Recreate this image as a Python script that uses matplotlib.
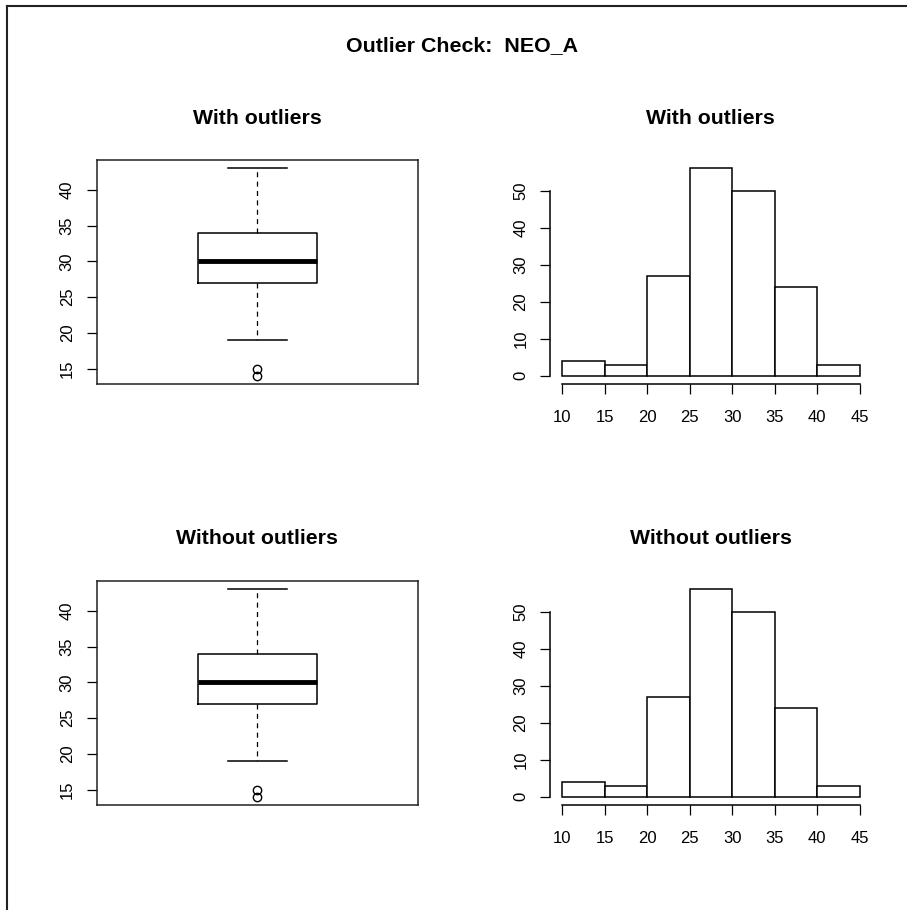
import matplotlib
matplotlib.use("Agg")
import matplotlib.pyplot as plt
from matplotlib.lines import Line2D

plt.rcParams['font.family'] = ['Liberation Sans', 'DejaVu Sans']

# values
main_title = "Outlier Check:  NEO_A"
panel_titles = ["With outliers", "Without outliers"]

box_q1 = 27
box_med = 30
box_q3 = 34
whisker_lo = 19
whisker_hi = 43
outliers = [14, 15]
box_yticks = [15, 20, 25, 30, 35, 40]

hist_edges = [10, 15, 20, 25, 30, 35, 40, 45]
hist_counts = [4, 3, 27, 56, 50, 24, 3]
hist_yticks = [0, 10, 20, 30, 40, 50]

W, H = 907, 910
fig = plt.figure(figsize=(W / 100, H / 100), dpi=100)


def px_axes(left, top, right, bottom):
    return fig.add_axes([left / W, 1 - bottom / H, (right - left) / W, (bottom - top) / H])


def r_ticks(ax):
    ax.tick_params(axis='both', length=7.3, width=0.9, labelsize=12, color='black')
    ax.tick_params(axis='y', pad=8.5)
    ax.tick_params(axis='x', pad=11.5)
    for lab in ax.get_yticklabels():
        lab.set_rotation(90)
        lab.set_va('center')


def add_title(ax, title):
    ax.text(0.5, 1 + 42 / 224, title, transform=ax.transAxes, ha='center', va='center',
            fontsize=15.3, fontweight='bold')


def draw_box(ax, title):
    stats = [dict(med=box_med, q1=box_q1, q3=box_q3, whislo=whisker_lo,
                  whishi=whisker_hi, fliers=outliers)]
    ax.bxp(stats, positions=[1], widths=0.4, capwidths=0.2,
           boxprops=dict(color='black', lw=1.1),
           medianprops=dict(color='black', lw=3.5, solid_capstyle='butt'),
           whiskerprops=dict(color='black', lw=0.9, linestyle=(0, (4, 3.5))),
           capprops=dict(color='black', lw=1.1),
           flierprops=dict(marker='o', markerfacecolor='none', markeredgecolor='black',
                           markersize=6, markeredgewidth=1.0))
    ax.set_xlim(0.46, 1.54)
    ax.set_ylim(12.84, 44.16)
    ax.set_xticks([])
    ax.set_yticks(box_yticks)
    ax.set_yticklabels([str(v) for v in box_yticks])
    for s in ax.spines.values():
        s.set_linewidth(1.1)
        s.set_color('#222222')
    r_ticks(ax)
    add_title(ax, title)


def draw_hist(ax, title):
    ax.bar(hist_edges[:-1], hist_counts, width=5, align='edge', color='white',
           edgecolor='black', linewidth=1.1)
    ax.set_xlim(8.6, 46.4)
    ax.set_ylim(-2.24, 58.24)
    ax.set_xticks(hist_edges)
    ax.set_xticklabels([str(v) for v in hist_edges])
    ax.set_yticks(hist_yticks)
    ax.set_yticklabels([str(v) for v in hist_yticks])
    ax.spines['top'].set_visible(False)
    ax.spines['right'].set_visible(False)
    ax.spines['left'].set_bounds(0, 50)
    ax.spines['bottom'].set_bounds(10, 45)
    for s in ('left', 'bottom'):
        ax.spines[s].set_linewidth(1.1)
    r_ticks(ax)
    add_title(ax, title)


rows = [(160, 384), (581, 805)]
for (top, bottom), title in zip(rows, panel_titles):
    draw_box(px_axes(96.7, top, 418, bottom), title)
    draw_hist(px_axes(550.2, top, 871.5, bottom), title)

fig.text(462.5 / W, 1 - 46 / H, main_title, ha='center', va='center',
         fontsize=15.4, fontweight='bold')

# outer frame (top and left edges only)
fig.add_artist(Line2D([7 / W, 1], [1 - 6 / H, 1 - 6 / H], transform=fig.transFigure,
                      color='#222222', lw=1.5))
fig.add_artist(Line2D([7 / W, 7 / W], [0, 1 - 6 / H], transform=fig.transFigure,
                      color='#222222', lw=1.5))

fig.savefig("out.png", dpi=100, facecolor='white')
